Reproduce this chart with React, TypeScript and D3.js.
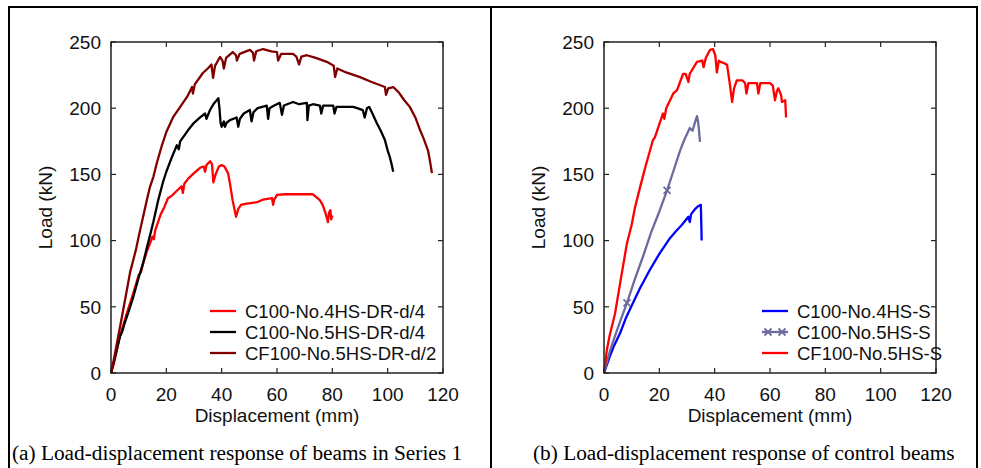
import React, { useEffect, useRef } from 'react';
import * as d3 from 'd3';

// axis ticks
const xTicks = [0, 20, 40, 60, 80, 100, 120];
const yTicks = [0, 50, 100, 150, 200, 250];

// (a) Series 1 — [displacement mm, load kN]
const c100No4DR: [number, number][] = [
  [0, 0], [1, 7], [2, 16], [3, 26], [4.4, 36], [6, 47], [8, 60], [10, 74], [10.8, 76], [11.5, 82],
  [13, 92], [14.1, 98], [15, 103], [15.5, 101], [16, 108], [18, 120], [19, 124], [20.6, 132], [22, 134],
  [24, 138], [25.5, 141], [26, 136], [26.5, 143], [28, 147], [30, 151], [32.2, 155], [33.5, 156],
  [34, 152], [34.5, 157], [35.8, 160], [36.5, 158], [37, 144], [37.8, 150], [39, 156], [40, 157],
  [41, 156], [42.3, 151], [43, 143], [44, 130], [45.2, 118], [46, 124], [47, 127], [49, 128],
  [52.8, 129], [55, 131], [58.2, 132], [58.6, 127], [59, 131], [60, 134.5], [63, 135], [67, 135],
  [70, 135], [73, 135], [75.5, 130.5], [76.5, 127], [77.5, 121], [78.4, 114], [78.8, 121],
  [79.3, 123], [79.6, 116], [80, 119],
];
const c100No5DR: [number, number][] = [
  [0, 0], [1, 8], [2, 17], [3.3, 28], [4, 31], [5, 38], [6, 44], [8, 57], [10, 72], [11.6, 83],
  [13, 95], [14, 103], [15.3, 114], [17, 130], [18.9, 145], [20, 152], [22, 163], [23.8, 172],
  [24.5, 169], [25, 175], [27.9, 183.5], [30, 189], [32.2, 193], [34, 196], [34.5, 192], [35.8, 198.6],
  [37, 203], [38.8, 207.6], [39.2, 200], [39.6, 189], [40, 186], [40.8, 190], [41.2, 186], [41.8, 189],
  [43, 191], [45.4, 193], [46, 186], [46.6, 192], [48, 196], [50.2, 198.6], [50.8, 190], [51.5, 197],
  [53, 200], [56.3, 202], [56.8, 192], [57.3, 200], [59, 202], [61, 204], [61.8, 195], [62.5, 202],
  [65.8, 204.7], [68, 203], [70.8, 204], [71, 191], [71.5, 202], [73, 203], [75.5, 202], [76, 196],
  [76.7, 202], [78.5, 202], [80.3, 202], [80.8, 196], [81.5, 201], [84, 201], [87.5, 201], [89, 200],
  [91, 198.6], [91.7, 193], [92.5, 200], [93.3, 201], [94.5, 196], [96, 189], [97.5, 183], [99, 176],
  [100, 168], [100.8, 163], [101.5, 157], [102, 152],
];
const cf100No5DR: [number, number][] = [
  [0, 0], [1, 10], [2, 21], [3, 32], [4, 43], [5.5, 60], [6.9, 76], [8, 85], [9, 93], [10, 103],
  [11.6, 118], [13, 131], [14, 140], [15.3, 148], [16.5, 158], [18.4, 172], [20, 182], [22.4, 193],
  [25, 201], [27.5, 208.5], [29.3, 216], [29.6, 211], [30.3, 218], [33.2, 226.6], [35, 230],
  [36.3, 233], [36.9, 223], [37.6, 232], [39.4, 238.7], [40.3, 236], [40.8, 230], [41.6, 238],
  [44, 242.4], [45.2, 240], [45.5, 236], [46.5, 241], [50.2, 244], [51.3, 242], [51.7, 236],
  [52.5, 243], [55, 244.7], [58, 243], [60, 242.4], [60.4, 236], [61.5, 241], [65.8, 241], [67, 239],
  [68, 233], [68.8, 239], [70.8, 240], [74, 238], [78, 235], [80.5, 232], [81, 223.5], [81.8, 230],
  [85, 227], [90, 223.5], [94, 220], [99, 216], [99.4, 210], [100.2, 215], [102, 216], [104, 212],
  [106, 206], [108, 201], [110, 193], [111.7, 183.5], [113, 177], [114.6, 168], [115.3, 160], [116, 151],
];

// (b) control beams
const c100No4S: [number, number][] = [
  [0, 0], [1, 6], [2, 12], [3.5, 20], [5.8, 30], [8, 42], [10.5, 53], [13, 64], [16.6, 78], [20, 90],
  [23.9, 102], [26, 107], [28.2, 112], [30.5, 118], [31, 114], [31.5, 120], [33, 124], [34, 126],
  [35, 127], [35.2, 110], [35.3, 100],
];
const c100No5S: [number, number][] = [
  [0, 0], [1, 8], [2.2, 17], [4, 28], [6, 40], [8.3, 53], [11, 70], [14.1, 88], [17, 106], [20, 122],
  [22.8, 138], [25, 152], [27.5, 168], [29, 176], [31, 185], [32, 183], [33, 190], [33.6, 194],
  [34, 190], [34.3, 184], [34.7, 174.5],
];
const c100No5SMarks: [number, number][] = [[8.3, 53], [22.8, 138]];
const cf100No5S: [number, number][] = [
  [0, 0], [0.5, 8], [1, 17], [2, 28], [4, 45], [6, 70], [8.3, 98], [10, 112], [11.2, 125], [13, 140],
  [15, 156], [17.7, 176], [18.4, 178], [20, 188], [21.3, 196], [21.8, 192], [22.5, 200], [25, 211],
  [26.4, 213.7], [28.6, 226], [29.5, 226], [30.5, 219.8], [31, 226], [33.6, 235], [35.5, 236],
  [36, 231], [36.8, 238], [38.3, 244], [39.4, 244.7], [40.2, 240], [40.8, 227], [41.5, 236], [42, 235],
  [43.5, 234], [44.5, 232.6], [45.5, 218], [46.3, 204.7], [47, 215], [48, 221], [50, 221], [51, 219],
  [51.5, 211], [52.2, 219], [55.3, 219], [55.8, 211], [56.5, 219], [60, 219], [61, 217], [61.8, 206],
  [62.5, 213], [63, 215], [64, 210], [64.3, 204.7], [65.5, 206], [65.8, 193],
];

const SANS = '"Liberation Sans", Arial, sans-serif';
const SERIF = '"Liberation Serif", "Times New Roman", serif';

type Series = { name: string; color: string; data: [number, number][]; marks?: [number, number][] };

const App = () => {
  const svgRef = useRef<SVGSVGElement>(null);

  useEffect(() => {
    const svg = d3.select(svgRef.current);
    svg.selectAll('*').remove();

    // outer table frame
    const frame = svg.append('g').attr('stroke', '#000').attr('stroke-width', 2).attr('fill', 'none');
    frame.append('line').attr('x1', 8).attr('x2', 978).attr('y1', 7).attr('y2', 7);
    frame.append('line').attr('x1', 9).attr('x2', 9).attr('y1', 6).attr('y2', 468);
    frame.append('line').attr('x1', 491).attr('x2', 491).attr('y1', 6).attr('y2', 468);
    frame.append('line').attr('x1', 977).attr('x2', 977).attr('y1', 6).attr('y2', 468);

    const drawPanel = (
      left: number,
      series: Series[],
      legendX: number,
      caption: string,
      captionX: number,
    ) => {
      const top = 42;
      const bottom = 373;
      const right = left + 332;
      const x = d3.scaleLinear().domain([0, 120]).range([left, right]);
      const y = d3.scaleLinear().domain([0, 250]).range([bottom, top]);
      const g = svg.append('g');

      // curves
      const line = d3.line<[number, number]>().x(d => x(d[0])).y(d => y(d[1]));
      series.forEach(s => {
        g.append('path')
          .datum(s.data)
          .attr('fill', 'none')
          .attr('stroke', s.color)
          .attr('stroke-width', 2.3)
          .attr('stroke-linejoin', 'round')
          .attr('d', line);
        if (s.marks) {
          s.marks.forEach(m => {
            const cx = x(m[0]);
            const cy = y(m[1]);
            g.append('path')
              .attr('d', `M${cx - 3.5},${cy - 3.5}L${cx + 3.5},${cy + 3.5}M${cx - 3.5},${cy + 3.5}L${cx + 3.5},${cy - 3.5}`)
              .attr('stroke', s.color)
              .attr('stroke-width', 1.8);
          });
        }
      });

      // box and inward ticks on all sides
      g.append('rect')
        .attr('x', left).attr('y', top)
        .attr('width', right - left).attr('height', bottom - top)
        .attr('fill', 'none').attr('stroke', '#222').attr('stroke-width', 1.5);

      xTicks.forEach(t => {
        g.append('line').attr('x1', x(t)).attr('x2', x(t)).attr('y1', bottom).attr('y2', bottom - 5)
          .attr('stroke', '#222').attr('stroke-width', 1.2);
        g.append('line').attr('x1', x(t)).attr('x2', x(t)).attr('y1', top).attr('y2', top + 5)
          .attr('stroke', '#222').attr('stroke-width', 1.2);
        g.append('text').attr('x', x(t)).attr('y', 401).attr('text-anchor', 'middle')
          .attr('font-family', SANS).attr('font-size', 19).attr('fill', '#111').text(t);
      });
      yTicks.forEach(t => {
        g.append('line').attr('x1', left).attr('x2', left + 5).attr('y1', y(t)).attr('y2', y(t))
          .attr('stroke', '#222').attr('stroke-width', 1.2);
        g.append('line').attr('x1', right).attr('x2', right - 5).attr('y1', y(t)).attr('y2', y(t))
          .attr('stroke', '#222').attr('stroke-width', 1.2);
        g.append('text').attr('x', left - 10).attr('y', y(t)).attr('dy', '0.36em').attr('text-anchor', 'end')
          .attr('font-family', SANS).attr('font-size', 19).attr('fill', '#111').text(t);
      });

      // axis titles
      g.append('text').attr('x', (left + right) / 2).attr('y', 422).attr('text-anchor', 'middle')
        .attr('font-family', SANS).attr('font-size', 19).attr('fill', '#111').text('Displacement (mm)');
      g.append('text')
        .attr('transform', `translate(${left - 66},${(top + bottom) / 2}) rotate(-90)`)
        .attr('dy', '0.36em').attr('text-anchor', 'middle')
        .attr('font-family', SANS).attr('font-size', 19).attr('fill', '#111').text('Load (kN)');

      // legend
      series.forEach((s, i) => {
        const ly = 311 + i * 21;
        g.append('line').attr('x1', legendX).attr('x2', legendX + 26).attr('y1', ly).attr('y2', ly)
          .attr('stroke', s.color).attr('stroke-width', 2.3);
        if (s.marks) {
          [legendX + 6, legendX + 20].forEach(cx => {
            g.append('path')
              .attr('d', `M${cx - 3.5},${ly - 3.5}L${cx + 3.5},${ly + 3.5}M${cx - 3.5},${ly + 3.5}L${cx + 3.5},${ly - 3.5}`)
              .attr('stroke', s.color).attr('stroke-width', 1.8);
          });
        }
        g.append('text').attr('x', legendX + 35).attr('y', ly).attr('dy', '0.36em')
          .attr('font-family', SANS).attr('font-size', 18.5).attr('fill', '#111').text(s.name);
      });

      // caption
      g.append('text').attr('x', captionX).attr('y', 460)
        .attr('font-family', SERIF).attr('font-size', 21.3).attr('fill', '#000').text(caption);
    };

    drawPanel(
      111,
      [
        { name: 'C100-No.4HS-DR-d/4', color: '#ff0000', data: c100No4DR },
        { name: 'C100-No.5HS-DR-d/4', color: '#000000', data: c100No5DR },
        { name: 'CF100-No.5HS-DR-d/2', color: '#800000', data: cf100No5DR },
      ],
      210,
      '(a) Load-displacement response of beams in Series 1',
      12,
    );
    drawPanel(
      604,
      [
        { name: 'C100-No.4HS-S', color: '#0000ff', data: c100No4S },
        { name: 'C100-No.5HS-S', color: '#6b6b9e', data: c100No5S, marks: c100No5SMarks },
        { name: 'CF100-No.5HS-S', color: '#ff0000', data: cf100No5S },
      ],
      762,
      '(b) Load-displacement response of control beams',
      533,
    );
  }, []);

  return (
    <svg
      ref={svgRef}
      width={981}
      height={468}
      style={{ position: 'absolute', left: 0, top: 0, background: '#fff' }}
    />
  );
};

export default App;
